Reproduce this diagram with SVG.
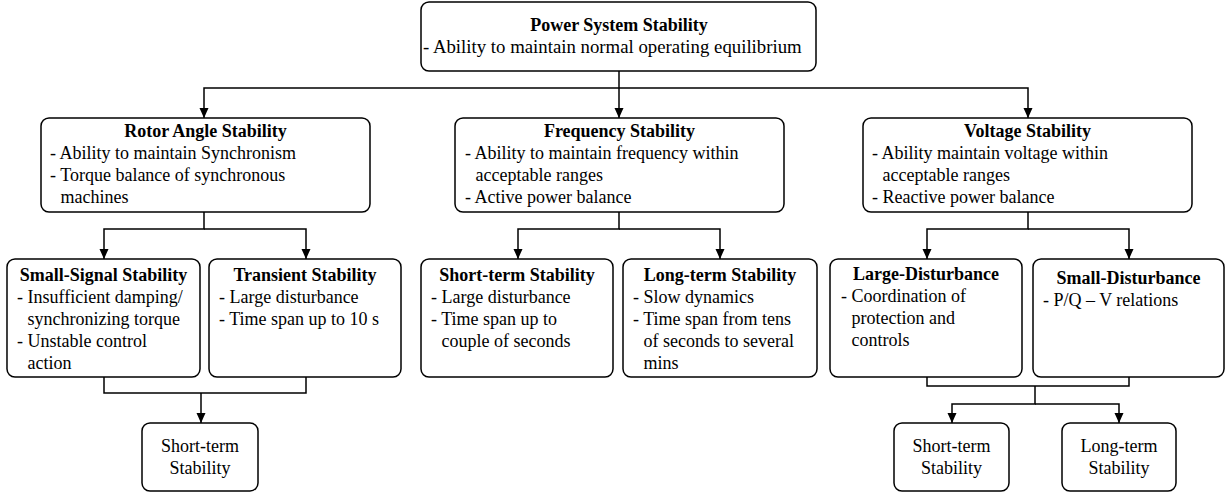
<svg xmlns="http://www.w3.org/2000/svg" width="1226" height="496" viewBox="0 0 1226 496">
<style>
.box{fill:#fff;stroke:#000;stroke-width:1.5}
.t{font-family:"Liberation Serif","Times New Roman",serif;font-size:18px;fill:#000}
.b{font-weight:bold;text-anchor:middle}
.c{text-anchor:middle}
.ln{fill:none;stroke:#000;stroke-width:1.5}
</style>
<defs>
<marker id="arr" markerWidth="10" markerHeight="10" refX="10" refY="4.5" orient="auto" markerUnits="userSpaceOnUse">
<path d="M0,0 L10,4.5 L0,9 Z" fill="#000"/>
</marker>
</defs>
<rect width="1226" height="496" fill="#fff"/>
<g id="connectors">
<path class="ln" d="M619,71 V118" marker-end="url(#arr)"/>
<path class="ln" d="M619,88 H204 V118" marker-end="url(#arr)"/>
<path class="ln" d="M619,88 H1028 V118" marker-end="url(#arr)"/>
<path class="ln" d="M204,212 V229 H104 V259" marker-end="url(#arr)"/>
<path class="ln" d="M204,229 H306 V259" marker-end="url(#arr)"/>
<path class="ln" d="M619,212 V229 H518 V259" marker-end="url(#arr)"/>
<path class="ln" d="M619,229 H720 V259" marker-end="url(#arr)"/>
<path class="ln" d="M1028,212 V229 H927 V259" marker-end="url(#arr)"/>
<path class="ln" d="M1028,229 H1129 V259" marker-end="url(#arr)"/>
<path class="ln" d="M104,377 V393 H306 V377"/>
<path class="ln" d="M201,393 V423" marker-end="url(#arr)"/>
<path class="ln" d="M927,377 V386 H1129 V377"/>
<path class="ln" d="M1035,386 V404 H952 V423" marker-end="url(#arr)"/>
<path class="ln" d="M1035,404 H1119 V423" marker-end="url(#arr)"/>
</g>
<g id="power-system-stability">
<rect class="box" x="421" y="2" width="395" height="69" rx="8"/>
<text class="t b" x="619" y="31">Power System Stability</text>
<text class="t" x="423" y="53" style="font-size:18.8px">- Ability to maintain normal operating equilibrium</text>
</g>
<g id="rotor-angle-stability">
<rect class="box" x="41" y="118" width="329" height="94" rx="8"/>
<text class="t b" x="205.5" y="137">Rotor Angle Stability</text>
<text class="t" x="50" y="159">- Ability to maintain Synchronism</text>
<text class="t" x="50" y="181">- Torque balance of synchronous</text>
<text class="t" x="60.5" y="203">machines</text>
</g>
<g id="frequency-stability">
<rect class="box" x="455" y="118" width="329" height="94" rx="8"/>
<text class="t b" x="619.5" y="137">Frequency Stability</text>
<text class="t" x="465" y="159">- Ability to maintain frequency within</text>
<text class="t" x="475.5" y="181">acceptable ranges</text>
<text class="t" x="465" y="203">- Active power balance</text>
</g>
<g id="voltage-stability">
<rect class="box" x="863" y="118" width="329" height="94" rx="8"/>
<text class="t b" x="1027.5" y="137">Voltage Stability</text>
<text class="t" x="872" y="159">- Ability maintain voltage within</text>
<text class="t" x="882.5" y="181">acceptable ranges</text>
<text class="t" x="872" y="203">- Reactive power balance</text>
</g>
<g id="small-signal-stability">
<rect class="box" x="7" y="259" width="193" height="118" rx="8"/>
<text class="t b" x="103.5" y="281">Small-Signal Stability</text>
<text class="t" x="17" y="303">- Insufficient damping/</text>
<text class="t" x="27.5" y="325">synchronizing torque</text>
<text class="t" x="17" y="347">- Unstable control</text>
<text class="t" x="27.5" y="369">action</text>
</g>
<g id="transient-stability">
<rect class="box" x="209" y="259" width="192" height="118" rx="8"/>
<text class="t b" x="305" y="281">Transient Stability</text>
<text class="t" x="219" y="303">- Large disturbance</text>
<text class="t" x="219" y="325">- Time span up to 10 s</text>
</g>
<g id="short-term-stability-freq">
<rect class="box" x="421" y="259" width="192" height="118" rx="8"/>
<text class="t b" x="517" y="281">Short-term Stability</text>
<text class="t" x="431" y="303">- Large disturbance</text>
<text class="t" x="431" y="325">- Time span up to</text>
<text class="t" x="441.5" y="347">couple of seconds</text>
</g>
<g id="long-term-stability-freq">
<rect class="box" x="623" y="259" width="194" height="118" rx="8"/>
<text class="t b" x="720" y="281">Long-term Stability</text>
<text class="t" x="633" y="303">- Slow dynamics</text>
<text class="t" x="633" y="325">- Time span from tens</text>
<text class="t" x="643.5" y="347">of seconds to several</text>
<text class="t" x="643.5" y="369">mins</text>
</g>
<g id="large-disturbance">
<rect class="box" x="830" y="259" width="192" height="118" rx="8"/>
<text class="t b" x="926" y="280">Large-Disturbance</text>
<text class="t" x="841" y="302">- Coordination of</text>
<text class="t" x="851.5" y="324">protection and</text>
<text class="t" x="851.5" y="346">controls</text>
</g>
<g id="small-disturbance">
<rect class="box" x="1033" y="259" width="191" height="118" rx="8"/>
<text class="t b" x="1128.5" y="284">Small-Disturbance</text>
<text class="t" x="1043" y="306">- P/Q – V relations</text>
</g>
<g id="short-term-stability-rotor">
<rect class="box" x="142" y="423" width="116" height="68" rx="8"/>
<text class="t c" x="200" y="452">Short-term</text>
<text class="t c" x="200" y="474">Stability</text>
</g>
<g id="short-term-stability-voltage">
<rect class="box" x="894" y="423" width="115" height="68" rx="8"/>
<text class="t c" x="951.5" y="452">Short-term</text>
<text class="t c" x="951.5" y="474">Stability</text>
</g>
<g id="long-term-stability-voltage">
<rect class="box" x="1062" y="423" width="114" height="68" rx="8"/>
<text class="t c" x="1119" y="452">Long-term</text>
<text class="t c" x="1119" y="474">Stability</text>
</g>
</svg>
